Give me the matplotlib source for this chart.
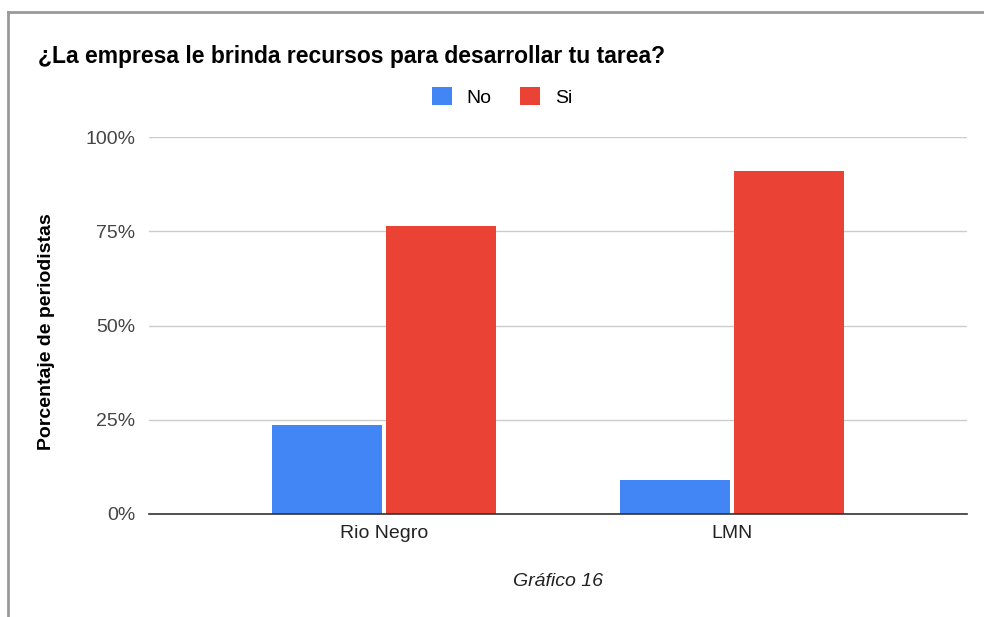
import numpy as np
import matplotlib.pyplot as plt

categories = ["Rio Negro", "LMN"]
no_vals = [23.5, 9.1]
si_vals = [76.5, 90.9]
yticks = [0, 25, 50, 75, 100]
ytick_labels = ["0%", "25%", "50%", "75%", "100%"]

plt.rcParams['font.family'] = ['Liberation Sans', 'DejaVu Sans']

fig = plt.figure(figsize=(9.84, 6.17), dpi=100)
W, H = 984, 617
ax = fig.add_axes([149 / W, 1 - 514 / H, (967 - 149) / W, (514 - 137) / H])

x = np.arange(len(categories))
w = 0.316
gap = 0.006
ax.bar(x - w / 2 - gap, no_vals, w, color="#4285f4", label="No", zorder=3)
ax.bar(x + w / 2 + gap, si_vals, w, color="#ea4335", label="Si", zorder=3)

ax.set_xlim(-0.675, 1.675)
ax.set_ylim(0, 100)
ax.set_yticks(yticks)
ax.set_yticklabels(ytick_labels, fontsize=14, color="#444444")
ax.set_xticks(x)
ax.set_xticklabels(categories, fontsize=14, color="#222222")
ax.tick_params(length=0, pad=10)
ax.tick_params(axis='x', pad=8)
ax.grid(axis='y', color="#cccccc", linewidth=1, zorder=0)
for s in ["top", "right", "left"]:
    ax.spines[s].set_visible(False)
ax.spines["bottom"].set_color("#333333")
ax.spines["bottom"].set_linewidth(1.2)
ax.spines["bottom"].set_zorder(4)

fig.text(38 / W, 1 - 57 / H, "¿La empresa le brinda recursos para desarrollar tu tarea?",
         fontsize=16.5, fontweight="bold", color="#000000", va="center", ha="left")
fig.text(47 / W, 1 - 332 / H, "Porcentaje de periodistas", rotation=90,
         fontsize=14, fontweight="bold", va="center", ha="center", color="#000000")
fig.text(558 / W, 1 - 582 / H, "Gráfico 16", fontsize=14, style="italic",
         va="center", ha="center", color="#222222")

leg = fig.legend(loc="center", bbox_to_anchor=(502 / W, 1 - 97 / H), ncol=2,
                 frameon=False, fontsize=14, handlelength=1.03, handleheight=1.03,
                 columnspacing=1.45, handletextpad=0.77)

# border lines like the screenshot
fig.add_artist(plt.Line2D([8 / W, 8 / W], [0, 1 - 12 / H], color="#999999", linewidth=2))
fig.add_artist(plt.Line2D([8 / W, 1], [1 - 12 / H, 1 - 12 / H], color="#999999", linewidth=2))

fig.savefig("out.png", dpi=100)
